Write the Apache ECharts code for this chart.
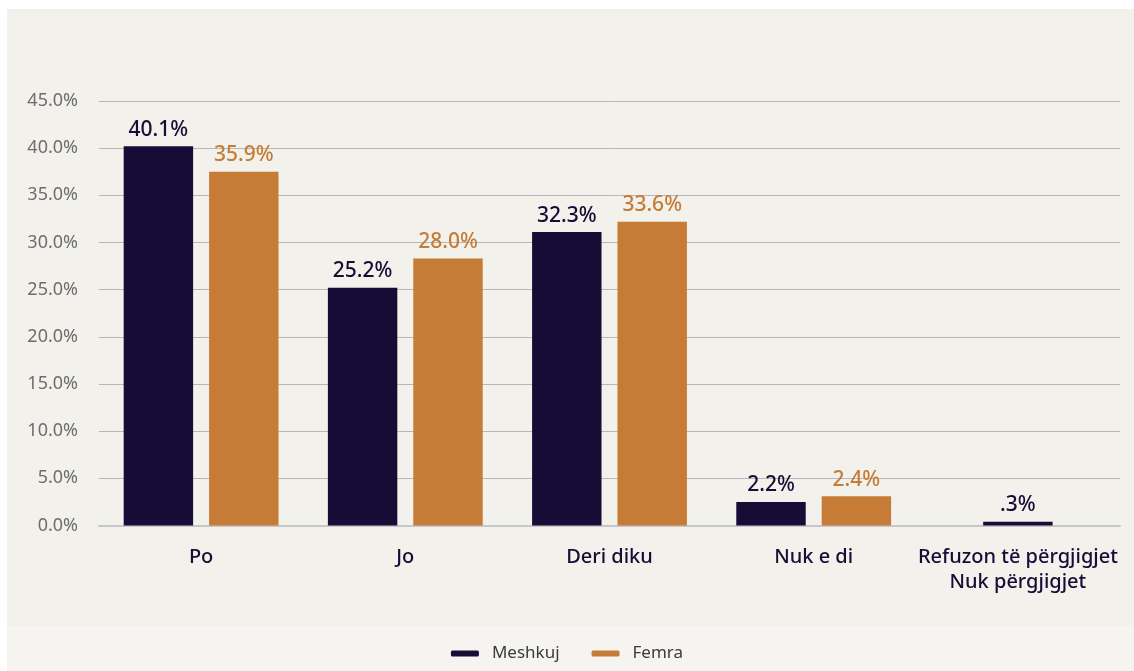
<!DOCTYPE html>
<html>
<head>
<meta charset="utf-8">
<script src="https://cdn.jsdelivr.net/npm/echarts@6/dist/echarts.min.js"></script>
<style>
  html, body { margin: 0; padding: 0; background: #ffffff; }
  #main_1 { width: 1134px; height: 671px; }
</style>
</head>
<body>
<div id="main_1"></div>
<script>
// categories and values (bar heights, labels as printed)
const categories = ["Po", "Jo", "Deri diku", "Nuk e di", "Refuzon të përgjigjet\nNuk përgjigjet"];
const meshkuj = [40.2, 25.2, 31.1, 2.5, "-"];
const femra = [37.5, 28.3, 32.2, 3.1, "-"];
const meshkujSingle = ["-", "-", "-", "-", 0.4];
const meshkujLabels = ["40.1%", "25.2%", "32.3%", "2.2%", ".3%"];
const femraLabels = ["35.9%", "28.0%", "33.6%", "2.4%", ""];
const yTicks = { min: 0, max: 45, interval: 5 };

const DARK = "#160c35";
const ORANGE = "#c67c37";
const FONT = "Noto Sans";

const chartDom = document.getElementById("main_1");
const myChart = echarts.init(chartDom, null, { renderer: "canvas" });

function barLabel(color, texts) {
  return {
    show: true,
    position: "top",
    distance: 6,
    color: color,
    fontFamily: FONT,
    fontSize: 21,
    fontWeight: 500,
    formatter: (p) => texts[p.dataIndex]
  };
}

const option = {
  backgroundColor: "#ffffff",
  animation: false,
  graphic: [
    { type: "rect", z: -10, shape: { x: 7, y: 9, width: 1127, height: 617 }, style: { fill: "#f2f1ec" } },
    { type: "rect", z: -10, shape: { x: 7, y: 626, width: 1127, height: 45 }, style: { fill: "#f5f4f0" } }
  ],
  grid: { left: 99, right: 14, top: 101, bottom: 145.5 },
  legend: {
    data: ["Meshkuj", "Femra"],
    top: 640,
    left: "center",
    itemWidth: 28,
    itemHeight: 6,
    itemGap: 32,
    icon: "roundRect",
    textStyle: { fontFamily: FONT, fontSize: 17, color: "#3b3b3d", padding: [0, 0, 0, 8] }
  },
  xAxis: [
    {
      type: "category",
      data: categories,
      axisTick: { show: false },
      axisLine: { lineStyle: { color: "#c6c7c9", width: 2 } },
      axisLabel: {
        margin: 19,
        color: DARK,
        fontFamily: FONT,
        fontSize: 20,
        fontWeight: 500,
        lineHeight: 25,
        interval: 0
      }
    },
    { type: "category", data: categories, show: false }
  ],
  yAxis: {
    type: "value",
    min: yTicks.min,
    max: yTicks.max,
    interval: yTicks.interval,
    axisLine: { show: false },
    axisTick: { show: false },
    splitLine: { lineStyle: { color: "#b5b7bc", width: 1 } },
    axisLabel: {
      margin: 21,
      color: "#6d6d6f",
      fontFamily: FONT,
      fontSize: 18,
      formatter: (v) => v.toFixed(1) + "%"
    }
  },
  series: [
    {
      name: "Meshkuj",
      type: "bar",
      data: meshkuj,
      barWidth: "34%",
      barGap: "23%",
      itemStyle: { color: DARK },
      label: barLabel(DARK, meshkujLabels)
    },
    {
      name: "Femra",
      type: "bar",
      data: femra,
      barWidth: "34%",
      barGap: "23%",
      itemStyle: { color: ORANGE },
      label: barLabel(ORANGE, femraLabels)
    },
    {
      name: "Meshkuj",
      type: "bar",
      xAxisIndex: 1,
      data: meshkujSingle,
      barWidth: "34%",
      itemStyle: { color: DARK },
      label: barLabel(DARK, meshkujLabels)
    }
  ]
};

option && myChart.setOption(option);
</script>
</body>
</html>
